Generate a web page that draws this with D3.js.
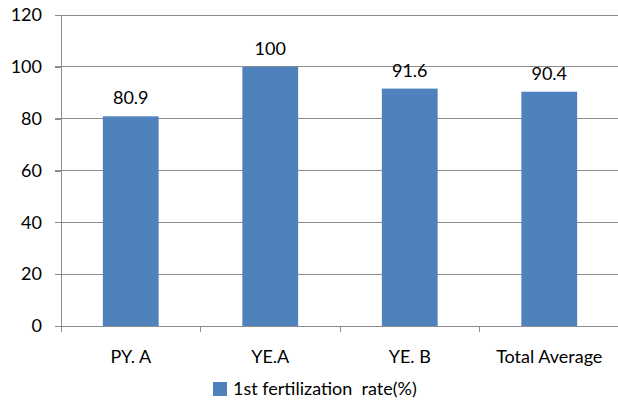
<!DOCTYPE html>
<html><head><meta charset="utf-8">
<script src="https://cdn.jsdelivr.net/npm/d3@7"></script>
<style>body{margin:0;background:#fff}svg{display:block}text{font-family:Lato,"Open Sans",sans-serif;fill:#000}</style>
</head><body>
<script>
const categories = ["PY. A", "YE.A", "YE. B", "Total Average"];
const values = [80.9, 100, 91.6, 90.4];
const valueLabels = ["80.9", "100", "91.6", "90.4"];
const yTicks = [0, 20, 40, 60, 80, 100, 120];
const seriesName = "1st fertilization  rate(%)";

(function () {
const W = 618, H = 403;
const svg = d3.select("body").append("svg").attr("width", W).attr("height", H);
const mL = 61, mR = 619, mT = 15, mB = 326;
const FS = "18px";
const x = d3.scaleBand().domain(categories).range([mL, mR]).paddingInner(0.6).paddingOuter(0.3);
const y = d3.scaleLinear().domain([0, 120]).range([mB, mT]);

// gridlines
svg.append("g").selectAll("line").data(yTicks.filter(d => d > 0)).join("line")
  .attr("x1", mL - 6).attr("x2", mR).attr("y1", d => y(d)).attr("y2", d => y(d))
  .attr("stroke", "#8c8c8c").attr("stroke-width", 1).attr("shape-rendering", "crispEdges");

// y axis
const ya = d3.axisLeft(y).tickValues(yTicks).tickSize(6).tickPadding(13);
const gy = svg.append("g").attr("transform", `translate(${mL},0)`).call(ya);
gy.select(".domain").attr("stroke", "#8c8c8c").attr("shape-rendering", "crispEdges");
gy.selectAll(".tick line").attr("stroke", "#8c8c8c").attr("shape-rendering", "crispEdges");
gy.selectAll("text").style("font-size", FS).attr("fill", "#000");

// bars
svg.append("g").selectAll("rect").data(values).join("rect")
  .attr("x", (d, i) => x(categories[i])).attr("width", x.bandwidth())
  .attr("y", d => y(d)).attr("height", d => y(0) - y(d))
  .attr("fill", "#4f81bd");

// x axis
const step = x.step();
const xa = d3.axisBottom(x).tickSize(0).tickPadding(24);
const gx = svg.append("g").attr("transform", `translate(0,${mB})`).call(xa);
gx.select(".domain").remove();
gx.append("line").attr("x1", mL - 6).attr("x2", mR).attr("y1", 0).attr("y2", 0)
  .attr("stroke", "#8c8c8c").attr("shape-rendering", "crispEdges");
const bounds = categories.map(c => x(c) - (step - x.bandwidth()) / 2).concat([mR]);
gx.selectAll(".bt").data(bounds).join("line").attr("class", "bt")
  .attr("x1", d => d).attr("x2", d => d).attr("y1", 0).attr("y2", 6)
  .attr("stroke", "#8c8c8c").attr("shape-rendering", "crispEdges");
gx.selectAll(".tick text").style("font-size", FS).attr("fill", "#000");

// value labels
svg.append("g").selectAll("text").data(values).join("text")
  .attr("x", (d, i) => x(categories[i]) + x.bandwidth() / 2)
  .attr("y", d => y(d) - 12)
  .attr("text-anchor", "middle").style("font-size", FS)
  .text((d, i) => valueLabels[i]);

// legend
const lg = svg.append("g");
lg.append("rect").attr("x", 213).attr("y", 382).attr("width", 14).attr("height", 14).attr("fill", "#4f81bd");
lg.append("text").attr("x", 233).attr("y", 395).style("font-size", FS).style("white-space", "pre").text(seriesName);
})();
</script>
</body></html>
